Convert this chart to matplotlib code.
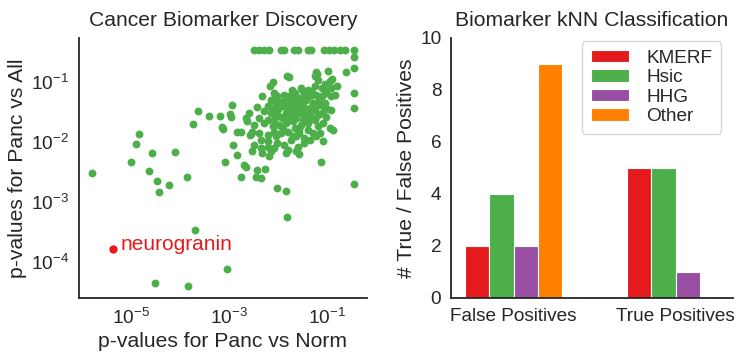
import numpy as np
import matplotlib
matplotlib.use("Agg")
import matplotlib.pyplot as plt

plt.rcParams['font.family'] = ['Liberation Sans', 'DejaVu Sans']
plt.rcParams['mathtext.default'] = 'regular'
TXT = '#262626'

# ---------------- data: left panel (log10 p-values) ----------------
top_row_log_norm = [-2.505, -2.40, -2.30, -2.20, -1.95, -1.89, -1.68, -1.60,
                    -1.39, -1.33, -1.06, -0.96, -0.86, -0.75, -0.65, -0.46]
top_row_log_all = [-0.467] * 16

right_col_log_norm = [-0.46, -0.46, -0.46, -0.46, -0.46]
right_col_log_all = [-0.588, -0.77, -1.18, -1.43, -2.70]

sparse_log_norm = [-5.80, -5.00, -4.90, -4.85, -4.63, -4.57, -4.47, -4.44, -4.24, -4.11,
                   -3.87, -3.75, -3.65, -3.41, -3.20, -3.16, -3.14, -2.98, -2.96, -2.94,
                   -2.92, -3.08, -2.84, -2.76, -2.70, -2.66, -2.84, -2.77, -2.55, -2.45,
                   -2.36, -2.27, -2.43, -3.71, -3.05, -4.52, -3.84, -2.02, -1.84, -1.82,
                   -1.14, -2.60, -2.67, -2.53, -0.63, -1.78, -1.21]
sparse_log_all = [-2.53, -2.34, -2.04, -1.87, -2.49, -2.19, -2.66, -2.84, -2.72, -2.17,
                  -2.59, -1.71, -1.49, -1.57, -1.57, -1.76, -1.79, -1.53, -1.59, -1.38,
                  -2.06, -2.34, -2.22, -2.59, -2.39, -2.42, -1.83, -1.83, -1.87, -2.59,
                  -2.61, -2.45, -2.47, -3.48, -4.12, -4.36, -4.41, -2.77, -2.82, -3.26,
                  -2.34, -1.52, -1.61, -2.15, -0.845, -0.92, -0.87]

dense_log_norm = [-2.12, -2.17, -1.82, -1.23, -0.99, -1.26, -1.19, -0.95, -0.81, -0.92,
                  -1.05, -1.26, -1.12, -1.54, -1.40, -1.33, -1.72, -1.67, -2.33, -2.09,
                  -2.02, -1.88, -1.78, -1.57, -1.36, -1.23, -1.12, -1.02, -0.92, -0.85,
                  -2.15, -2.05, -1.95, -1.85, -1.74, -1.64, -1.50, -1.43, -1.30, -1.19,
                  -1.09, -2.43, -2.22, -2.12, -1.91, -1.81, -1.67, -1.54, -1.36, -1.26,
                  -0.92, -2.29, -2.15, -2.02, -1.85, -1.74, -1.60, -1.47, -1.33, -1.19,
                  -2.40, -2.22, -2.09, -1.91, -1.78, -1.64, -1.50, -1.02, -2.64, -2.50,
                  -2.29, -2.12, -1.98, -1.85, -1.67, -1.54, -1.40, -1.19, -1.09, -0.95,
                  -0.88, -2.53, -2.40, -2.22, -2.09, -1.95, -1.81, -1.71, -1.57, -1.47,
                  -1.36, -1.23, -1.30, -2.57, -2.36, -2.22, -2.02, -1.88, -1.74, -1.60,
                  -1.47, -1.09, -2.22, -2.36, -2.09, -2.50, -2.33, -2.15, -1.85, -1.64,
                  -1.57, -2.19, -1.81]
dense_log_all = [-1.01, -1.07, -0.90, -0.83, -0.82, -0.91, -0.97, -0.99, -1.07, -1.11,
                 -1.12, -1.07, -1.11, -1.11, -1.13, -1.16, -1.14, -1.19, -1.24, -1.19,
                 -1.24, -1.22, -1.24, -1.27, -1.24, -1.22, -1.24, -1.19, -1.24, -1.22,
                 -1.30, -1.36, -1.33, -1.30, -1.33, -1.36, -1.33, -1.30, -1.36, -1.38,
                 -1.40, -1.42, -1.41, -1.44, -1.41, -1.38, -1.44, -1.44, -1.44, -1.47,
                 -1.47, -1.49, -1.52, -1.55, -1.52, -1.55, -1.52, -1.55, -1.58, -1.55,
                 -1.61, -1.63, -1.63, -1.61, -1.63, -1.61, -1.63, -1.58, -1.66, -1.72,
                 -1.69, -1.74, -1.72, -1.69, -1.77, -1.72, -1.69, -1.74, -1.69, -1.77,
                 -1.80, -1.83, -1.86, -1.88, -1.83, -1.86, -1.83, -1.91, -1.86, -1.94,
                 -1.97, -1.91, -1.86, -1.88, -1.97, -1.99, -2.02, -2.05, -1.97, -2.08,
                 -2.02, -1.99, -2.08, -2.11, -2.11, -2.05, -2.19, -2.16, -2.19, -2.16,
                 -2.20, -2.24, -2.13]

core_log_norm = [-1.70, -1.60, -1.50, -1.42, -1.55, -1.68, -1.80, -1.45, -1.30, -1.18,
                 -1.05, -1.00, -1.12, -1.40, -1.70, -1.95, -2.00, -1.88, -1.62, -1.35,
                 -1.25, -1.58, -1.90, -2.05, -1.65, -1.40, -1.15, -1.50, -1.05, -0.90]
core_log_all = [-1.28, -1.30, -1.40, -1.48, -1.50, -1.50, -1.46, -1.20, -1.20, -1.30,
                -1.35, -1.45, -1.52, -1.60, -1.65, -1.58, -1.45, -1.38, -1.40, -1.52,
                -1.64, -1.78, -1.78, -1.90, -1.90, -1.80, -1.85, -1.15, -1.03, -0.95]

highlight_name = "neurogranin"
highlight_log_norm = -5.37
highlight_log_all = -3.79

# ---------------- data: right panel ----------------
groups = ["False Positives", "True Positives"]
methods = ["KMERF", "Hsic", "HHG", "Other"]
counts = {
    "KMERF": [2, 5],
    "Hsic": [4, 5],
    "HHG": [2, 1],
    "Other": [9, 0],
}
colors = ["#e41a1c", "#4daf4a", "#984ea3", "#ff7f00"]

# ---------------- figure ----------------
W, H = 737, 356
fig = plt.figure(figsize=(W / 100, H / 100), dpi=100)
ax1 = fig.add_axes([79 / W, 1 - 298 / H, 288 / W, 260 / H])
ax2 = fig.add_axes([451 / W, 1 - 298 / H, 282 / W, 260 / H])

LABEL_FS = 15.2
TICK_FS = 13.7

x_all = np.array(top_row_log_norm + right_col_log_norm + sparse_log_norm
                 + dense_log_norm + core_log_norm)
y_all = np.array(top_row_log_all + right_col_log_all + sparse_log_all
                 + dense_log_all + core_log_all)

ax1.set_xscale('log')
ax1.set_yscale('log')
ax1.scatter(10 ** x_all, 10 ** y_all, s=32, color="#4daf4a", linewidths=0, zorder=2)
ax1.scatter([10 ** highlight_log_norm], [10 ** highlight_log_all], s=36, color="#e41a1c",
            linewidths=0, zorder=3)
ax1.annotate(highlight_name, (10 ** highlight_log_norm, 10 ** highlight_log_all),
             xytext=(5, -0.5), textcoords='offset points', va='baseline', ha='left',
             color="#e41a1c", fontsize=15)
ax1.set_xticks([1e-5, 1e-3, 1e-1])
ax1.set_yticks([1e-4, 1e-3, 1e-2, 1e-1])
ax1.minorticks_off()
ax1.set_title("Cancer Biomarker Discovery", fontsize=LABEL_FS, color=TXT, pad=8.5)
ax1.set_xlabel("p-values for Panc vs Norm", fontsize=LABEL_FS, color=TXT, labelpad=3)
ax1.set_ylabel("p-values for Panc vs All", fontsize=LABEL_FS, color=TXT, labelpad=3)

# bars
xpos = np.arange(len(groups))
bw = 0.15
for i, (m, c) in enumerate(zip(methods, colors)):
    ax2.bar(xpos - 0.225 + i * bw, counts[m], width=bw, color=c, edgecolor='white',
            linewidth=0.8, label=m, zorder=2)
ax2.set_xlim(-0.386, 1.354)
ax2.set_ylim(0, 10)
ax2.set_yticks([0, 2, 4, 6, 8, 10])
ax2.set_xticks(xpos)
ax2.set_xticklabels(groups)
ax2.set_title("Biomarker kNN Classification", fontsize=LABEL_FS, color=TXT, pad=8.5)
ax2.set_ylabel("# True / False Positives", fontsize=LABEL_FS, color=TXT, labelpad=3)
leg = ax2.legend(loc='upper right', bbox_to_anchor=(0.956, 0.988), borderaxespad=0,
                 fontsize=TICK_FS, frameon=True, fancybox=True, edgecolor='#cccccc',
                 labelspacing=0.13, handlelength=2.0, handleheight=0.65, handletextpad=0.9,
                 borderpad=0.45)
leg.get_frame().set_linewidth(1.0)
for t in leg.get_texts():
    t.set_color(TXT)

for ax in (ax1, ax2):
    for side in ('top', 'right'):
        ax.spines[side].set_visible(False)
    for side in ('left', 'bottom'):
        ax.spines[side].set_color(TXT)
        ax.spines[side].set_linewidth(1.3)
    ax.tick_params(axis='both', which='both', length=0, pad=7, labelsize=TICK_FS,
                   labelcolor=TXT)
    ax.set_facecolor('white')

fig.savefig("out.png", dpi=100, facecolor='white')
